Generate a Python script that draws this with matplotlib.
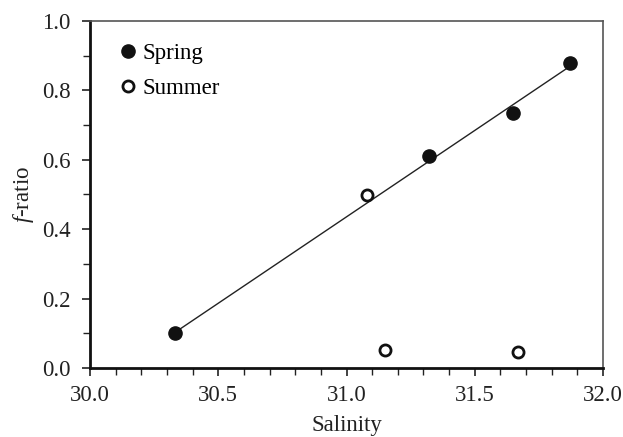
import numpy as np
import matplotlib
matplotlib.use("Agg")
import matplotlib.pyplot as plt
from matplotlib.ticker import MultipleLocator, FormatStrFormatter

spring_sal = [30.33, 31.32, 31.65, 31.87]
spring_f = [0.10, 0.61, 0.735, 0.88]
summer_sal = [31.08, 31.15, 31.67]
summer_f = [0.50, 0.052, 0.045]

plt.rcParams['font.family'] = ['Liberation Serif', 'DejaVu Serif']
plt.rcParams['mathtext.fontset'] = 'custom'
plt.rcParams['mathtext.rm'] = 'Liberation Serif'
plt.rcParams['mathtext.it'] = 'Liberation Serif:italic'

FS = 16.5
fig = plt.figure(figsize=(6.23, 4.37), dpi=100)
ax = fig.add_axes([90/623, 1-368/437, (603-90)/623, (368-21)/437])

slope, icpt = np.polyfit(spring_sal, spring_f, 1)
xl = np.array([min(spring_sal), max(spring_sal)])
ax.plot(xl, slope*xl + icpt, color='#222222', lw=1.0, zorder=1)

ax.plot(spring_sal, spring_f, 'o', ms=9.5, color='#111111', mec='#111111', label='Spring', zorder=3)
ax.plot(summer_sal, summer_f, 'o', ms=8, mfc='white', mec='#111111', mew=2, label='Summer', zorder=3)

ax.set_xlim(30.0, 32.0)
ax.set_ylim(0.0, 1.0)
ax.xaxis.set_major_locator(MultipleLocator(0.5))
ax.xaxis.set_minor_locator(MultipleLocator(0.1))
ax.yaxis.set_major_locator(MultipleLocator(0.2))
ax.yaxis.set_minor_locator(MultipleLocator(0.1))
ax.xaxis.set_major_formatter(FormatStrFormatter('%.1f'))
ax.yaxis.set_major_formatter(FormatStrFormatter('%.1f'))
ax.tick_params(which='both', direction='out', labelsize=FS, color='#222222', labelcolor='#222222')
ax.tick_params(which='major', length=6, width=1.2)
ax.tick_params(which='minor', length=5, width=1.0)
ax.tick_params(axis='y', which='major', pad=8)
ax.tick_params(axis='x', which='major', pad=6)

for s in ['left', 'bottom']:
    ax.spines[s].set_linewidth(2.0)
    ax.spines[s].set_color('#111111')
for s in ['top', 'right']:
    ax.spines[s].set_linewidth(1.2)
    ax.spines[s].set_color('#555555')

ax.set_xlabel('Salinity', fontsize=FS, color='#222222', labelpad=7)
ax.set_ylabel(r'$\mathit{f}$-ratio', fontsize=FS, color='#222222', labelpad=4)

ax.legend(loc='upper left', frameon=False, fontsize=FS, handletextpad=0.0,
          handlelength=1.2, borderaxespad=0.0, labelspacing=0.6,
          bbox_to_anchor=(0.03, 0.962))

fig.savefig('out.png', dpi=100)
